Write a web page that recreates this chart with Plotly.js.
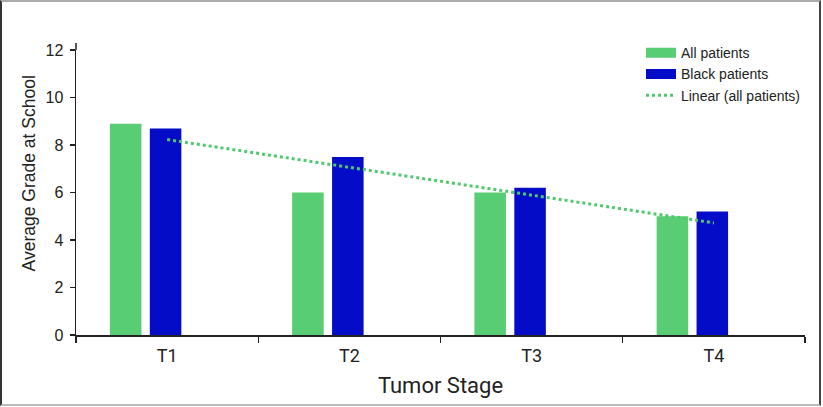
<!DOCTYPE html>
<html>
<head>
<meta charset="utf-8">
<script src="https://cdn.plot.ly/plotly-3.0.1.min.js"></script>
<style>
  html, body { margin: 0; padding: 0; background: #fff; }
  #frame { position: absolute; left: 0; top: 0; width: 821px; height: 406px; box-sizing: border-box;
           border-top: 2px solid #aaa; border-bottom: 2px solid #bbb; border-left: 2px solid #333; border-right: 2px solid #444; }
  #chart { position: absolute; left: 0; top: 0; width: 823px; height: 407px; }
</style>
</head>
<body>
<div id="chart"></div>
<div id="frame"></div>
<script>
const categories = ["T1", "T2", "T3", "T4"];
const allPatients = [8.9, 6.0, 6.0, 5.0];
const blackPatients = [8.7, 7.5, 6.2, 5.2];
const yTicks = [0, 2, 4, 6, 8, 10, 12];

// Linear trendline (least squares) of all patients, as in the original chart
const n = allPatients.length;
const xs = allPatients.map((_, i) => i + 1);
const mx = xs.reduce((a, b) => a + b, 0) / n;
const my = allPatients.reduce((a, b) => a + b, 0) / n;
let sxy = 0, sxx = 0;
for (let i = 0; i < n; i++) { sxy += (xs[i] - mx) * (allPatients[i] - my); sxx += (xs[i] - mx) ** 2; }
const slope = sxy / sxx, intercept = my - slope * mx;
const trendX = [categories[0], categories[n - 1]];
const trendY = [intercept + slope * xs[0], intercept + slope * xs[n - 1]];

const green = "rgb(88,205,115)";
const blue = "rgb(4,12,200)";
const condensed = "Liberation Sans Narrow, Arial Narrow, Roboto, sans-serif";

const traces = [
  { type: "bar", name: "All patients", x: categories, y: allPatients, showlegend: false,
    marker: { color: green }, width: 0.173, offset: -0.314 },
  { type: "bar", name: "Black patients", x: categories, y: blackPatients, showlegend: false,
    marker: { color: blue }, width: 0.173, offset: -0.095 },
  // legend swatches (wide rectangles, like the reference legend)
  { type: "scatter", mode: "lines", name: "All patients", x: [null], y: [null],
    line: { color: green, width: 11 } },
  { type: "scatter", mode: "lines", name: "Black patients", x: [null], y: [null],
    line: { color: blue, width: 11 } },
  { type: "scatter", mode: "lines", name: "Linear (all patients)", x: trendX, y: trendY,
    line: { color: "rgb(80,200,110)", width: 3, dash: "dot" } }
];

const layout = {
  width: 823, height: 407,
  margin: { l: 76, r: 18, t: 50, b: 72 },
  paper_bgcolor: "#fff", plot_bgcolor: "#fff",
  font: { family: "Liberation Sans, Arial, sans-serif", color: "#222" },
  showlegend: true,
  legend: { x: 0.775, y: 1.045, xanchor: "left", yanchor: "top",
            font: { size: 14, color: "#222" }, tracegroupgap: 0, itemwidth: 30,
            bgcolor: "rgba(0,0,0,0)" },
  xaxis: {
    type: "category", range: [-0.5, 3.5],
    showline: true, linecolor: "#222", linewidth: 1.5,
    ticks: "outside", ticklen: 6, tickcolor: "#222", tickwidth: 1.2, tickson: "boundaries",
    ticklabelstandoff: 4,
    showgrid: false, zeroline: false,
    tickfont: { family: condensed, size: 18, color: "#222" },
    title: { text: "Tumor Stage", standoff: 12,
             font: { family: condensed, size: 22, color: "#222" } }
  },
  yaxis: {
    range: [0, 12], tickvals: yTicks, ticktext: yTicks.map(String),
    showline: true, linecolor: "#222", linewidth: 1.5,
    ticks: "outside", ticklen: 5, tickcolor: "#222", tickwidth: 1.2, ticklabelstandoff: 3,
    showgrid: false, zeroline: false,
    tickfont: { size: 16, color: "#222" }
  },
  shapes: [
    { type: "line", xref: "paper", yref: "paper", x0: 0, x1: 0, y0: 1, y1: 1.025,
      line: { color: "#222", width: 1.5 } }
  ],
  annotations: [
    { text: "Average Grade at School", textangle: -90, showarrow: false,
      xref: "paper", yref: "paper", x: -0.0645, y: 0.567, xanchor: "center", yanchor: "middle",
      font: { size: 17.5, color: "#222" } }
  ]
};

Plotly.newPlot("chart", traces, layout, { displayModeBar: false, staticPlot: true });
</script>
</body>
</html>
